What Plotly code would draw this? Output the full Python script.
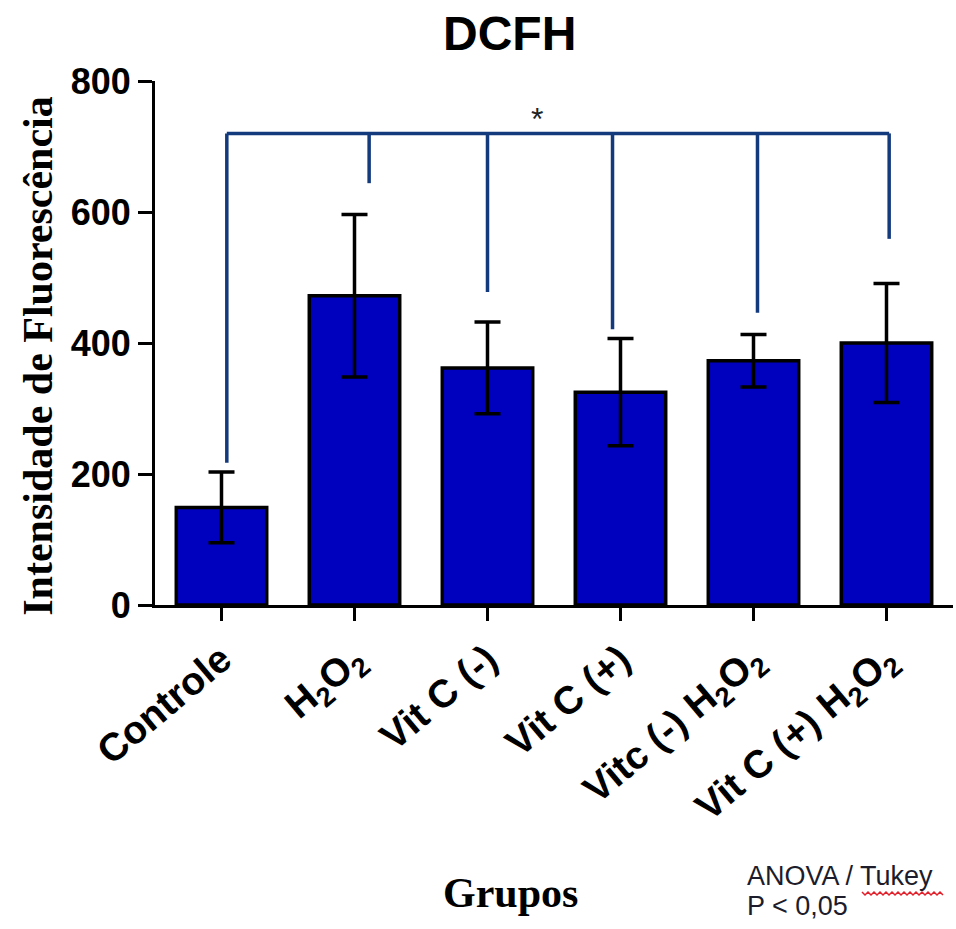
import plotly.graph_objects as go

categories = ["Controle", "H<sub>2</sub>O<sub>2</sub>", "Vit C (-)", "Vit C (+)",
              "Vitc (-) H<sub>2</sub>O<sub>2</sub>", "Vit C (+) H<sub>2</sub>O<sub>2</sub>"]
means = [149, 472, 362, 325, 373, 400]
sds = [54, 124, 70, 82, 40, 91]
y_ticks = [0, 200, 400, 600, 800]

# significance bracket (ANOVA/Tukey vs Controle)
bracket_level = 720
bracket_drop_x = [0.04, 1.11, 2.0, 2.94, 4.03, 5.02]
bracket_drop_end = [217, 644, 478, 421, 446, 559]

BAR_COLOR = "#0000BF"
BRACKET_COLOR = "#133a7c"
SANS = "Liberation Sans, Arial, sans-serif"
SERIF = "Liberation Serif, Times New Roman, serif"

x_idx = list(range(len(categories)))

fig = go.Figure()
fig.add_trace(go.Bar(
    x=x_idx, y=means, width=0.68,
    marker=dict(color=BAR_COLOR, line=dict(color="black", width=3.5)),
    error_y=dict(type="data", array=sds, visible=True, color="black",
                 thickness=3.5, width=13),
    showlegend=False,
))

# bracket horizontal line
fig.add_trace(go.Scatter(
    x=[bracket_drop_x[0], bracket_drop_x[-1]], y=[bracket_level, bracket_level],
    mode="lines", line=dict(color=BRACKET_COLOR, width=3.5), showlegend=False,
    hoverinfo="skip"))
for bx, by in zip(bracket_drop_x, bracket_drop_end):
    fig.add_trace(go.Scatter(
        x=[bx, bx], y=[bracket_level, by], mode="lines",
        line=dict(color=BRACKET_COLOR, width=3.5), showlegend=False,
        hoverinfo="skip"))

fig.add_annotation(x=2.37, y=bracket_level, xref="x", yref="y", text="*",
                   showarrow=False, yanchor="bottom", yshift=-6,
                   font=dict(family=SANS, size=32, color="#222"))

fig.update_layout(
    width=956, height=929,
    margin=dict(l=155, r=3, t=81, b=324),
    plot_bgcolor="white", paper_bgcolor="white",
    bargap=0.3,
)
fig.update_xaxes(
    range=[-0.5, 5.5], tickvals=x_idx, ticktext=categories, tickangle=-40,
    showline=True, linecolor="black", linewidth=3,
    ticks="outside", ticklen=13, tickwidth=3, tickcolor="black",
    showgrid=False, zeroline=False,
    tickfont=dict(family=SANS, size=39, color="black", weight="bold"),
)
fig.update_yaxes(
    range=[0, 800], tickvals=y_ticks,
    showline=True, linecolor="black", linewidth=3,
    ticks="outside", ticklen=14, tickwidth=3, tickcolor="black",
    showgrid=False, zeroline=False,
    tickfont=dict(family=SANS, size=36, color="black", weight="bold"),
)

# title
fig.add_annotation(text="<b>DCFH</b>", xref="paper", yref="paper", x=0.444, y=1.09,
                   xanchor="center", yanchor="middle", showarrow=False,
                   font=dict(family=SANS, size=48, color="black"))
# y axis title
fig.add_annotation(text="<b>Intensidade de Fluorescência</b>", xref="paper", yref="paper",
                   x=-0.147, y=0.475, xanchor="center", yanchor="middle", textangle=-90,
                   showarrow=False, font=dict(family=SERIF, size=42, color="black"))
# x axis title
fig.add_annotation(text="<b>Grupos</b>", xref="paper", yref="paper", x=0.446, y=-0.55,
                   xanchor="center", yanchor="middle", showarrow=False,
                   font=dict(family=SERIF, size=42, color="black"))
# stats note
fig.add_annotation(text="ANOVA / Tukey", xref="paper", yref="paper", x=0.739, y=-0.517,
                   xanchor="left", yanchor="middle", showarrow=False,
                   font=dict(family=SANS, size=27, color="#1c1c2c"))
fig.add_annotation(text="P < 0,05", xref="paper", yref="paper", x=0.739, y=-0.574,
                   xanchor="left", yanchor="middle", showarrow=False,
                   font=dict(family=SANS, size=27, color="#1c1c2c"))

# red spell-check squiggle under "Tukey" (decoration, in pixel-derived paper coords)
x0, x1, ybase, step = 862, 945, 893, 3
segs = []
px, i = x0, 0
while px <= x1:
    py = ybase + (2 if i % 2 else -1)
    segs.append(f"{(px - 155) / 798:.5f},{(605 - py) / 524:.5f}")
    px += step
    i += 1
fig.add_shape(type="path", xref="paper", yref="paper", path="M " + " L ".join(segs),
              line=dict(color="#e0202a", width=1.5))

fig.write_html("out.html")
